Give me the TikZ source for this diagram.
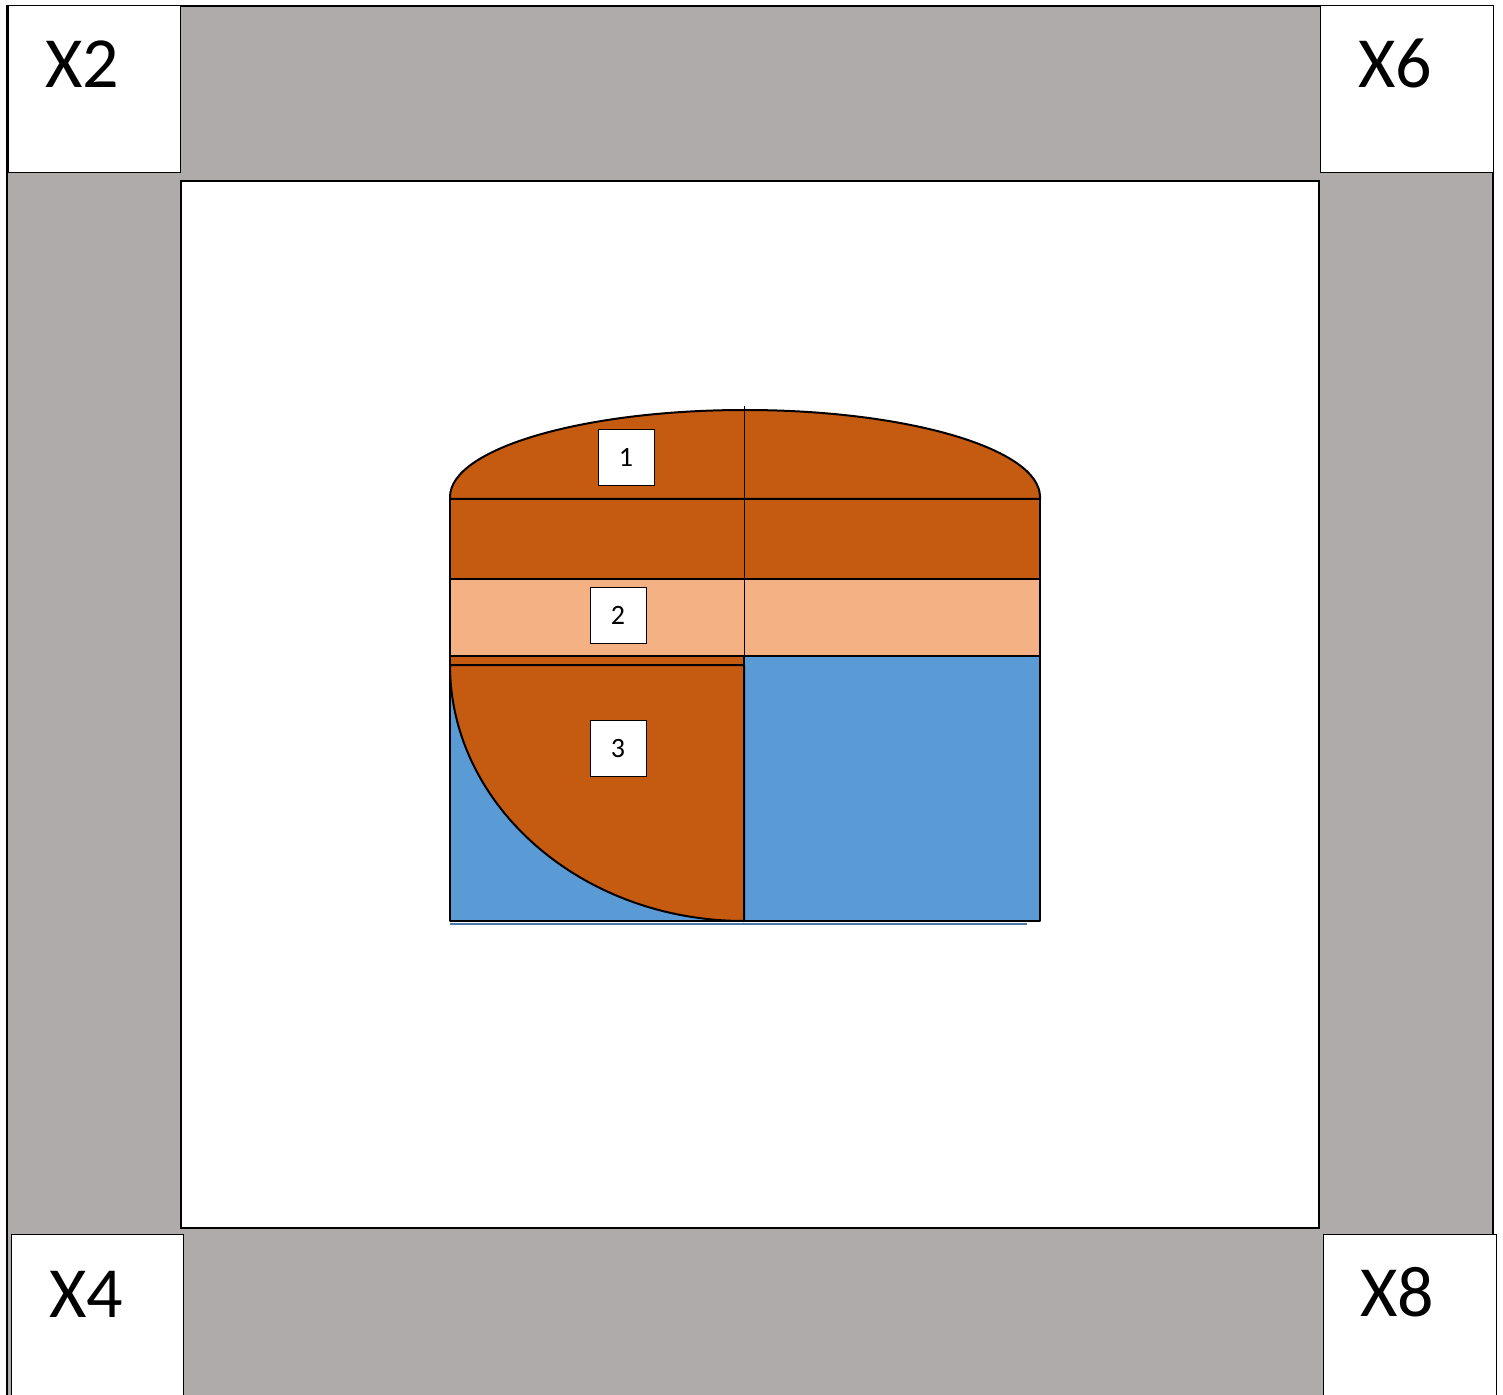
\documentclass[tikz,border=0pt]{standalone}
\usepackage{fontspec}
\setmainfont{Carlito}
\definecolor{grayband}{RGB}{175,171,171}
\definecolor{dorange}{RGB}{197,90,17}
\definecolor{lorange}{RGB}{244,177,131}
\definecolor{sblue}{RGB}{91,155,213}
\definecolor{dblue}{RGB}{75,120,170}
\begin{document}
\begin{tikzpicture}[x=0.5pt,y=-0.5pt,
  thinframe/.style={draw=black,line width=0.7pt},
  cornerbox/.style={fill=white,draw=black,line width=0.5pt},
  bigtext/.style={font=\fontsize{36}{40}\selectfont,anchor=base,inner sep=0pt},
  numbox/.style={fill=white,draw=black,line width=0.4pt,minimum size=28pt,inner sep=0pt,font=\fontsize{14}{16}\selectfont},
  part/.style={draw=black,line width=1pt,line join=round}]
\useasboundingbox (0,0) rectangle (1503,1395);
\fill[white] (0,0) rectangle (1503,1395);
% gray frame
\fill[grayband] (7,6) rectangle (1493,1395);
\draw[thinframe] (7,1395) -- (7,6) -- (1493,6) -- (1493,1234);
% inner white area
\draw[fill=white,draw=black,line width=1.1pt] (181,181) rectangle (1319,1228);
% corner boxes
\draw[cornerbox] (8,6) rectangle (180,173);
\draw[cornerbox] (1320,6) rectangle (1493,173);
\draw[cornerbox] (11,1234) rectangle (183,1400);
\draw[cornerbox] (1323,1234) rectangle (1496,1400);
\node[bigtext] (x2) at (82,88) {X2};
\node[bigtext] (x6) at (1395,88) {X6};
\node[bigtext] (x4) at (86,1317) {X4};
\node[bigtext] (x8) at (1397,1316) {X8};
% central shape
\draw[dblue,line width=1.2pt] (450,924) -- (1027,924);
\draw[part,fill=dorange] (450,499) -- (450,497) .. controls (450,449) and (582,410) .. (745,410) .. controls (908,410) and (1040,449) .. (1040,497) -- (1040,499) -- cycle;
\draw[part,fill=dorange] (450,499) rectangle (1040,579);
\draw[part,fill=lorange] (450,579) rectangle (1040,656);
\draw[part,fill=sblue] (744,656) rectangle (1040,921);
\draw[part] (1040,656) -- (1040,688);
\draw[part,fill=sblue] (450,665) rectangle (744,921);
\draw[part,fill=dorange] (450,656) rectangle (744,665);
\draw[part,fill=dorange] (450,665) .. controls (450,806) and (582,921) .. (744,921) -- (744,665) -- cycle;
\draw[black,line width=0.5pt] (744,406) -- (744,656);
% labels
\node[numbox] (n1) at (626,457.5) {1};
\node[numbox] (n2) at (618,615.5) {2};
\node[numbox] (n3) at (618,748.5) {3};
\end{tikzpicture}
\end{document}
